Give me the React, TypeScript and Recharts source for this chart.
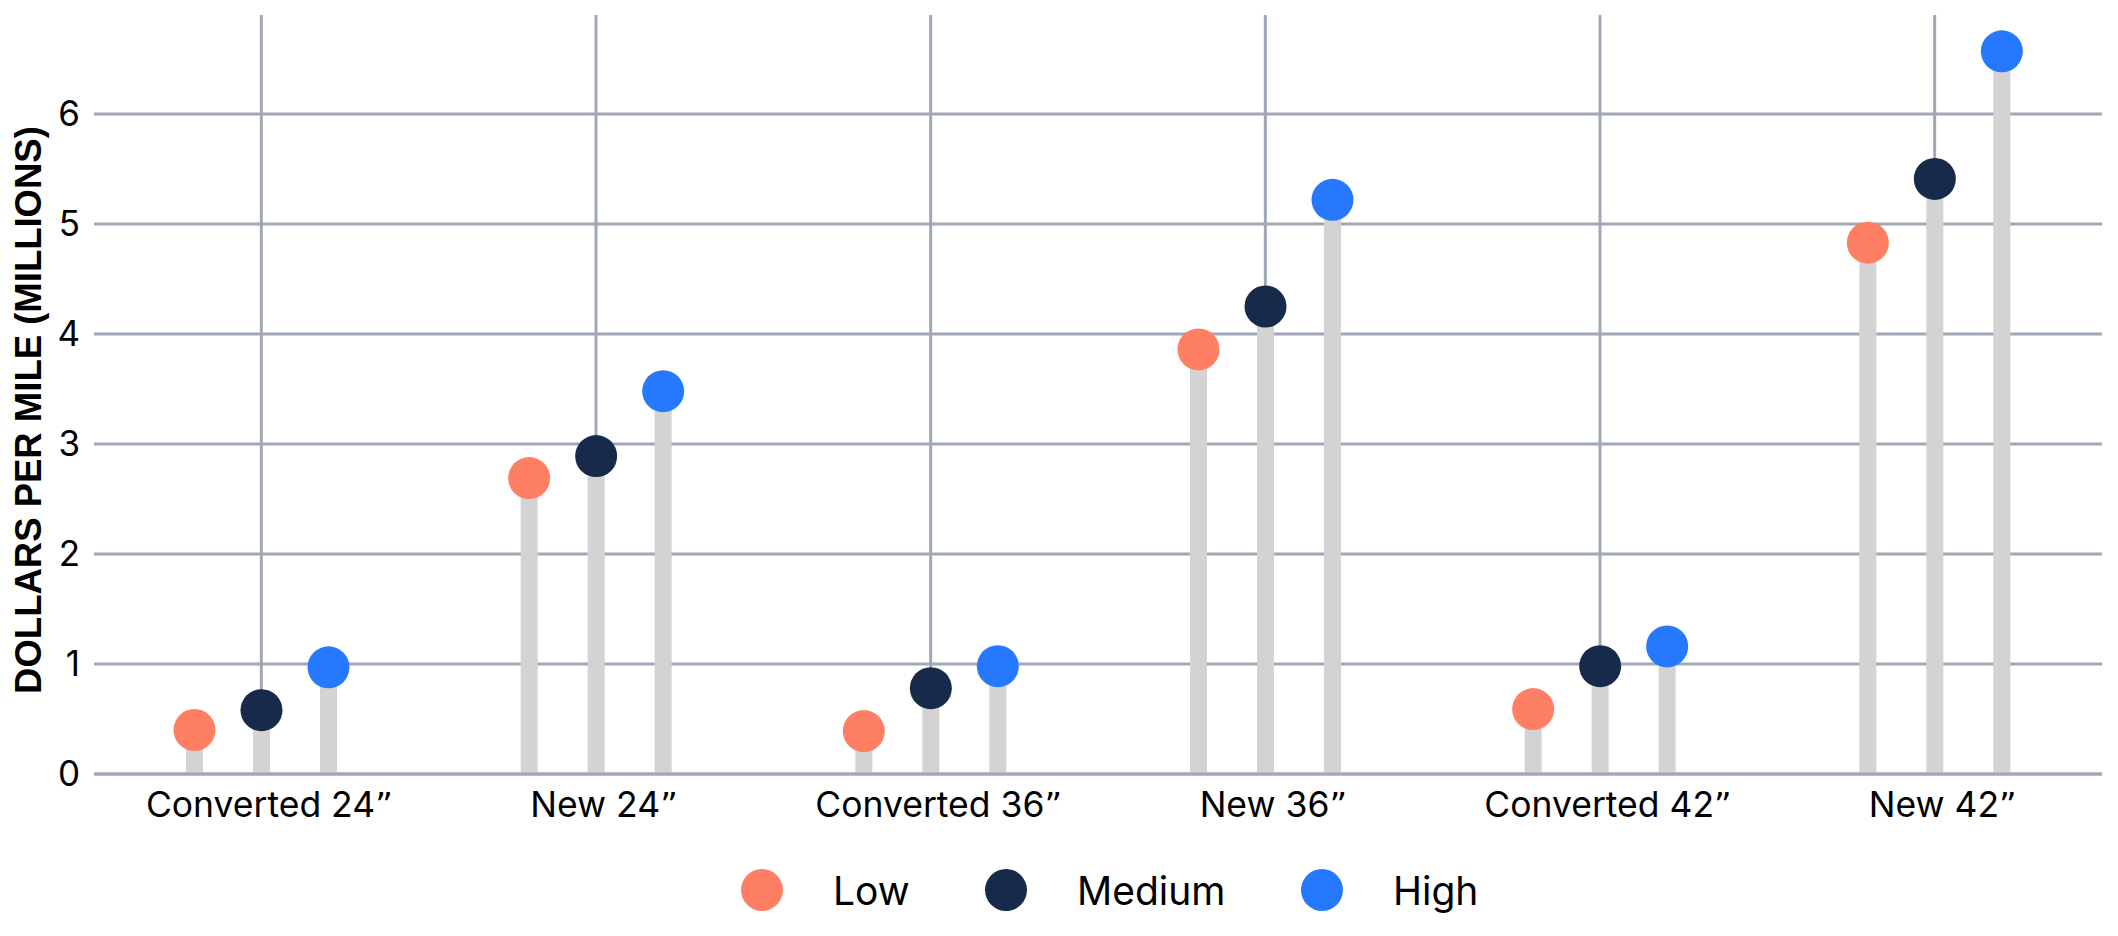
import React from "react";
import { ComposedChart, Bar, XAxis, YAxis, CartesianGrid } from "recharts";

const categories = ["Converted 24\u201D", "New 24\u201D", "Converted 36\u201D", "New 36\u201D", "Converted 42\u201D", "New 42\u201D"];
const lowValues = [0.4, 2.69, 0.39, 3.86, 0.59, 4.83];
const mediumValues = [0.58, 2.89, 0.78, 4.25, 0.98, 5.41];
const highValues = [0.97, 3.48, 0.98, 5.22, 1.16, 6.57];
const yTicks = [0, 1, 2, 3, 4, 5, 6];

const series = [
  { key: "low", name: "Low", color: "#FF7F64" },
  { key: "medium", name: "Medium", color: "#172A4A" },
  { key: "high", name: "High", color: "#2679FF" },
];

const data = categories.map((category, i) => ({
  category,
  low: lowValues[i],
  medium: mediumValues[i],
  high: highValues[i],
}));

const GRID = "#A0A8B8";
const STEM = "#D3D3D3";
const FONT = "Inter, 'Noto Sans', sans-serif";

// gray stem with a coloured dot on top
const lollipop = (color: string) => (props: any) => {
  const { x, y, width, height } = props;
  if (x == null || y == null) return <g />;
  return (
    <g>
      <rect x={x} y={y} width={width} height={height} fill={STEM} />
      <circle cx={x + width / 2} cy={y} r={21} fill={color} />
    </g>
  );
};

// category label; the closing quote is drawn in a font with a curly glyph
const CategoryTick = (props: any) => {
  const { x, y, payload } = props;
  const label: string = String(payload.value);
  const hasQuote = label.endsWith("\u201D");
  const body = hasQuote ? label.slice(0, -1) : label;
  return (
    <text x={x + 8} y={y} dy="0.71em" textAnchor="middle" fill="#000" fontSize={35.5} fontFamily={FONT}>
      <tspan>{body}</tspan>
      {hasQuote && <tspan fontFamily="'DejaVu Sans', sans-serif" fontSize={34}>{"\u201D"}</tspan>}
    </text>
  );
};

const YTitle = () => (
  <text
    x={28}
    y={410}
    transform="rotate(-90, 28, 410)"
    textAnchor="middle"
    dominantBaseline="central"
    fontFamily="'Liberation Sans', Arial, sans-serif"
    fontWeight={700}
    fontSize={36.5}
    fill="#000"
  >
    DOLLARS PER MILE (MILLIONS)
  </text>
);

const legendCenters = [762, 1006, 1322];

export default function App() {
  return (
    <div style={{ position: "relative", width: 2118, height: 936, background: "#fff" }}>
      <style>{"body{margin:0}"}</style>
      <ComposedChart
        width={2118}
        height={936}
        data={data}
        margin={{ top: 15, right: 16, bottom: 102, left: 0 }}
        barSize={17}
        barGap={50}
      >
        <CartesianGrid stroke={GRID} strokeWidth={3} syncWithTicks />
        <XAxis
          dataKey="category"
          interval={0}
          height={60}
          tickLine={false}
          tickSize={0}
          tickMargin={18}
          axisLine={{ stroke: GRID, strokeWidth: 3 }}
          tick={<CategoryTick />}
        />
        <YAxis
          width={94}
          domain={[0, 6.9]}
          ticks={yTicks}
          axisLine={false}
          tickLine={false}
          tickSize={0}
          tickMargin={14}
          tick={{ fill: "#000", fontSize: 35, fontFamily: FONT }}
          label={{ content: () => <YTitle /> }}
        />
        {series.map((s) => (
          <Bar
            key={s.key}
            dataKey={s.key}
            name={s.name}
            fill={STEM}
            shape={lollipop(s.color)}
            isAnimationActive={false}
          />
        ))}
      </ComposedChart>
      {series.map((s, i) => (
        <div
          key={s.key}
          style={{
            position: "absolute",
            left: legendCenters[i] - 21,
            top: 869,
            height: 42,
            display: "flex",
            alignItems: "center",
            fontFamily: FONT,
            fontSize: 39,
            color: "#000",
            whiteSpace: "nowrap",
          }}
        >
          <span style={{ width: 42, height: 42, borderRadius: 21, background: s.color, marginRight: 50 }} />
          <span>{s.name}</span>
        </div>
      ))}
    </div>
  );
}
